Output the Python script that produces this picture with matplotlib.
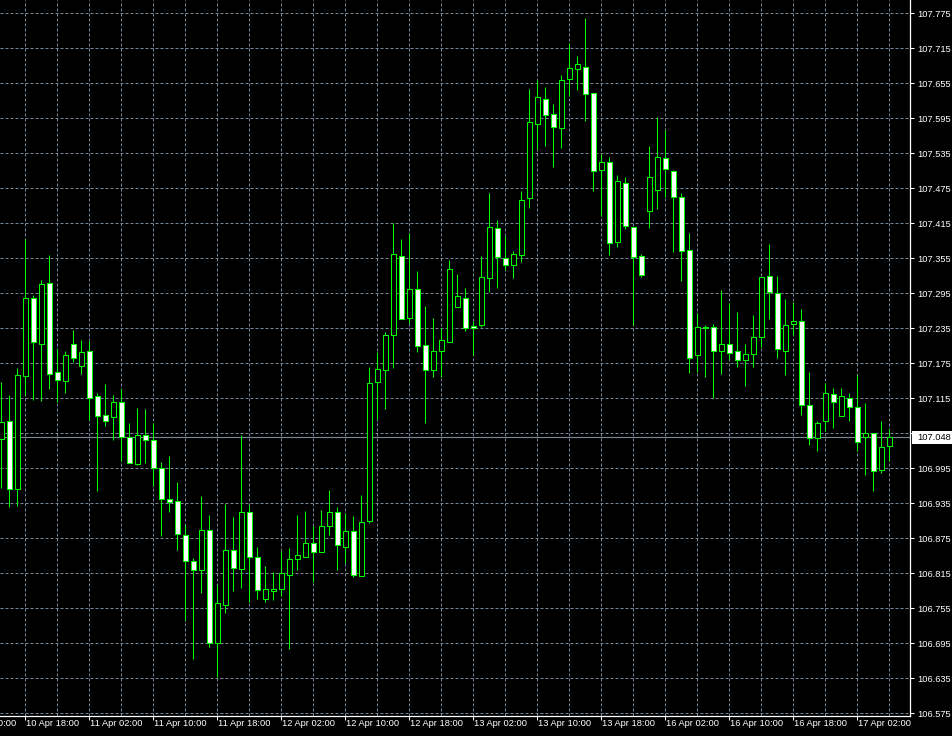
import numpy as np
import matplotlib
matplotlib.use('Agg')
import matplotlib.pyplot as plt
from matplotlib.patches import Rectangle
from matplotlib.transforms import offset_copy

# USDJPY H1, 10 Apr 15:00 .. 17 Apr 04:00 (bar values)
opens = [107.045, 107.077, 106.959, 107.154, 107.287, 107.209, 107.312, 107.160, 107.144, 107.208,
         107.171, 107.197, 107.119, 107.086, 107.083, 107.108, 107.048, 107.003, 107.052, 107.043,
         106.995, 106.942, 106.939, 106.880, 106.837, 106.820, 106.889, 106.695, 106.760, 106.855,
         106.823, 106.921, 106.843, 106.771, 106.784, 106.788, 106.813, 106.839, 106.843, 106.867,
         106.851, 106.897, 106.921, 106.861, 106.887, 106.810, 106.904, 107.143, 107.163, 107.223,
         107.359, 107.252, 107.302, 107.206, 107.163, 107.197, 107.211, 107.271, 107.287, 107.239,
         107.240, 107.321, 107.407, 107.355, 107.343, 107.361, 107.459, 107.586, 107.629, 107.602,
         107.578, 107.663, 107.680, 107.683, 107.638, 107.507, 107.520, 107.383, 107.485, 107.408,
         107.359, 107.436, 107.472, 107.527, 107.504, 107.460, 107.369, 107.189, 107.236, 107.237,
         107.196, 107.208, 107.197, 107.180, 107.191, 107.220, 107.324, 107.295, 107.197, 107.242,
         107.247, 107.103, 107.047, 107.076, 107.122, 107.084, 107.115, 107.100, 107.048, 107.055,
         106.992, 107.033]
highs = [107.143, 107.121, 107.167, 107.389, 107.292, 107.318, 107.361, 107.200, 107.196, 107.232,
         107.215, 107.213, 107.124, 107.140, 107.121, 107.131, 107.073, 107.099, 107.097, 107.073,
         107.006, 107.016, 106.972, 106.898, 106.841, 106.948, 106.915, 106.795, 106.934, 106.912,
         107.052, 106.932, 106.861, 106.828, 106.817, 106.853, 106.859, 106.915, 106.922, 106.896,
         106.924, 106.958, 106.928, 106.918, 106.913, 106.949, 107.168, 107.195, 107.229, 107.415,
         107.389, 107.398, 107.333, 107.273, 107.252, 107.235, 107.352, 107.329, 107.304, 107.247,
         107.359, 107.467, 107.421, 107.393, 107.368, 107.471, 107.645, 107.661, 107.648, 107.620,
         107.669, 107.724, 107.702, 107.767, 107.638, 107.534, 107.528, 107.498, 107.494, 107.408,
         107.363, 107.548, 107.597, 107.575, 107.506, 107.467, 107.398, 107.261, 107.240, 107.242,
         107.300, 107.278, 107.263, 107.209, 107.258, 107.323, 107.379, 107.324, 107.285, 107.280,
         107.268, 107.160, 107.077, 107.141, 107.132, 107.132, 107.124, 107.155, 107.107, 107.055,
         107.077, 107.062]
lows = [106.961, 106.928, 106.931, 107.120, 107.112, 107.111, 107.131, 107.109, 107.125, 107.178,
        107.157, 107.078, 106.957, 107.067, 107.043, 107.007, 107.004, 107.001, 107.005, 106.965,
        106.879, 106.920, 106.855, 106.735, 106.668, 106.782, 106.688, 106.637, 106.747, 106.785,
        106.790, 106.766, 106.771, 106.766, 106.769, 106.777, 106.685, 106.820, 106.843, 106.801,
        106.851, 106.880, 106.821, 106.832, 106.808, 106.810, 106.901, 107.079, 107.097, 107.167,
        107.251, 107.244, 107.195, 107.072, 107.151, 107.151, 107.211, 107.271, 107.231, 107.189,
        107.237, 107.298, 107.305, 107.335, 107.321, 107.348, 107.442, 107.542, 107.547, 107.511,
        107.545, 107.634, 107.643, 107.591, 107.471, 107.427, 107.361, 107.375, 107.406, 107.241,
        107.323, 107.407, 107.439, 107.460, 107.366, 107.317, 107.159, 107.161, 107.151, 107.116,
        107.156, 107.182, 107.168, 107.137, 107.168, 107.203, 107.251, 107.184, 107.155, 107.223,
        107.086, 107.035, 107.024, 107.059, 107.064, 107.084, 107.076, 107.024, 106.983, 106.956,
        106.987, 107.007]
closes = [107.075, 106.959, 107.155, 107.287, 107.211, 107.311, 107.156, 107.146, 107.189, 107.184,
          107.194, 107.115, 107.084, 107.077, 107.108, 107.048, 107.005, 107.053, 107.043, 106.995,
          106.943, 106.938, 106.883, 106.837, 106.820, 106.889, 106.695, 106.764, 106.855, 106.825,
          106.921, 106.843, 106.786, 106.789, 106.788, 106.815, 106.839, 106.846, 106.867, 106.851,
          106.897, 106.920, 106.863, 106.887, 106.812, 106.903, 107.141, 107.165, 107.223, 107.362,
          107.251, 107.302, 107.204, 107.163, 107.197, 107.215, 107.336, 107.290, 107.235, 107.235,
          107.323, 107.408, 107.357, 107.343, 107.362, 107.455, 107.588, 107.631, 107.600, 107.581,
          107.660, 107.681, 107.688, 107.636, 107.505, 107.521, 107.381, 107.487, 107.410, 107.357,
          107.326, 107.494, 107.528, 107.509, 107.460, 107.367, 107.185, 107.237, 107.238, 107.196,
          107.208, 107.192, 107.180, 107.191, 107.221, 107.323, 107.297, 107.199, 107.240, 107.247,
          107.103, 107.047, 107.072, 107.124, 107.108, 107.119, 107.101, 107.041, 107.055, 106.990,
          107.031, 107.048]

time_labels = ['10 Apr 10:00', '10 Apr 18:00', '11 Apr 02:00', '11 Apr 10:00', '11 Apr 18:00',
               '12 Apr 02:00', '12 Apr 10:00', '12 Apr 18:00', '13 Apr 02:00', '13 Apr 10:00',
               '13 Apr 18:00', '16 Apr 02:00', '16 Apr 10:00', '16 Apr 18:00', '17 Apr 02:00']
first_label_bar = -5      # bar index of '10 Apr 10:00'
price_ticks = [106.575, 106.635, 106.695, 106.755, 106.815, 106.875, 106.935, 106.995, 107.055,
               107.115, 107.175, 107.235, 107.295, 107.355, 107.415, 107.475, 107.535, 107.595,
               107.655, 107.715, 107.775]
last_price = 107.048

green = '#00ff00'
grid_col = '#778899'
font = dict(family=['Liberation Sans', 'DejaVu Sans'], size=6.7)

fig = plt.figure(figsize=(9.53, 7.36), dpi=100, facecolor='black')
ax = fig.add_axes([0, 20.5 / 736, 910.5 / 953, 715.5 / 736])
ax.set_facecolor('black')

# candles: wicks first, bodies on top (white = down bar, black = up bar)
x = np.arange(len(opens))
ax.vlines(x, lows, highs, color=green, linewidth=0.75, zorder=2)
for xi, o, c in zip(x, opens, closes):
    lo, hi = min(o, c), max(o, c)
    face = 'white' if c < o else 'black'
    ax.add_patch(Rectangle((xi - 0.27, lo), 0.54, max(hi - lo, 0.0005),
                           facecolor=face, edgecolor=green, linewidth=0.75, zorder=3))

# current price line
ax.axhline(last_price, color=grid_col, linewidth=0.8, zorder=1.8)

label_bars = first_label_bar + 8 * np.arange(len(time_labels))
ax.set_xticks(label_bars[1:])
ax.set_xticks(label_bars[1:] + 4, minor=True)
ax.set_xticklabels([])
ax.set_yticks(price_ticks)
ax.set_yticklabels(['%.3f' % p for p in price_ticks], **font)
# limits after the ticks, so set_xticks cannot widen them
# (8 px per bar, bar centres on pixel centres)
ax.set_xlim(-0.1875, 113.625)
ax.set_ylim(106.5714, 107.798)

ax.yaxis.tick_right()
ax.tick_params(axis='y', colors='white', length=3, width=0.75, pad=1.7)
ax.tick_params(axis='x', which='major', colors='white', length=3, width=0.75)
ax.tick_params(axis='x', which='minor', length=0)
ax.grid(True, which='both', color=grid_col, linestyle=(0, (3, 2)), linewidth=0.72)
ax.set_axisbelow(True)

for s in ['top', 'left']:
    ax.spines[s].set_visible(False)
for s in ['right', 'bottom']:
    ax.spines[s].set_color('white')
    ax.spines[s].set_linewidth(0.9)

lbl_tr = offset_copy(ax.get_xaxis_transform(), fig=fig, x=1, y=-4, units='dots')
for b, t in zip(label_bars, time_labels):
    ax.text(b, 0, t, transform=lbl_tr, ha='left', va='top', color='white',
            clip_on=False, **font)

# price tag on the right axis
tag_h = 13.5 / 583.33
ax.add_patch(Rectangle((1.002, last_price - tag_h / 2), 0.06, tag_h,
                       transform=ax.get_yaxis_transform(), facecolor='white',
                       edgecolor='none', clip_on=False, zorder=10))
ax.text(1.0072, last_price, '%.3f' % last_price, transform=ax.get_yaxis_transform(),
        ha='left', va='center', color='black', clip_on=False, zorder=11, **font)

fig.savefig('out.png', dpi=100, facecolor='black')
